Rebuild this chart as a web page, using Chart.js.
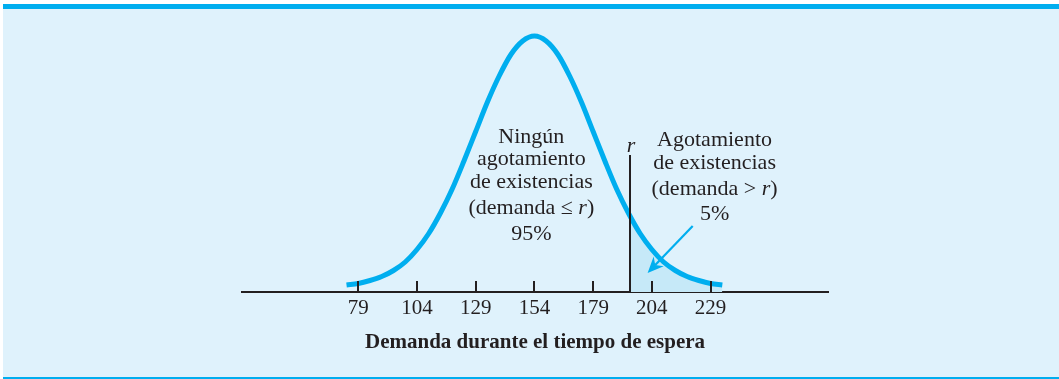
<!DOCTYPE html>
<html>
<head>
<meta charset="utf-8">
<script src="https://cdn.jsdelivr.net/npm/chart.js@4"></script>
<style>
  html, body { margin: 0; padding: 0; background: #ffffff; }
  #wrap { position: relative; width: 1059px; height: 379px; overflow: hidden; }
  #panel { position: absolute; left: 3px; top: 9px; width: 1056px; height: 368px; background: #dff2fc; }
  #topband { position: absolute; left: 3px; top: 4px; width: 1056px; height: 5px; background: #00aeef; }
  #bottomline { position: absolute; left: 3px; top: 377px; width: 1056px; height: 2px; background: #00aeef; }
  #chart { position: absolute; left: 0; top: 0; }
</style>
</head>
<body>
<div id="wrap">
  <div id="panel"></div>
  <div id="topband"></div>
  <div id="bottomline"></div>
  <canvas id="chart" width="1059" height="379"></canvas>
</div>
<script>
// ---- data ----
const curveX = [74, 79, 84, 89, 94, 99, 104, 109, 114, 119, 124, 129, 134, 139, 144, 149, 154,
                159, 164, 169, 174, 179, 184, 189, 194, 199, 204, 209, 214, 219, 224, 229, 234];
const curveH = [7, 8.5, 11.5, 15.5, 21.5, 30, 42.5, 58.5, 79, 103, 131, 160.5, 190, 216, 237.5, 251, 256,
                251, 237.5, 216, 190, 160.5, 131, 103, 79, 58.5, 42.5, 30, 21.5, 15.5, 11.5, 8.5, 7];
const tickValues = [79, 104, 129, 154, 179, 204, 229];
const tickLabels = ["79", "104", "129", "154", "179", "204", "229"];
const rValue = 194.5;
const axisTitle = "Demanda durante el tiempo de espera";
const leftLabel = ["Ningún", "agotamiento", "de existencias", "(demanda ≤ r)", "95%"];
const rightLabel = ["Agotamiento", "de existencias", "(demanda > r)", "5%"];
const rMarkLabel = "r";

// ---- styling / layout ----
const BLUE = "#00aeef";
const SHADE = "#c6e9f8";
const INK = "#231f20";
const SERIF = "'Liberation Serif', 'Times New Roman', serif";

const curvePts = curveX.map((x, i) => ({ x: x, y: curveH[i] }));

function drawMixedLine(ctx, text, cx, baseY, size) {
  const parts = text.split(/(\br\b)/).filter(s => s.length);
  const fontN = size + "px " + SERIF;
  const fontI = "italic " + size + "px " + SERIF;
  let total = 0;
  const widths = parts.map(p => {
    ctx.font = (p === "r") ? fontI : fontN;
    const w = ctx.measureText(p).width;
    total += w;
    return w;
  });
  let x = cx - total / 2;
  ctx.textAlign = "left";
  ctx.textBaseline = "alphabetic";
  parts.forEach((p, i) => {
    ctx.font = (p === "r") ? fontI : fontN;
    ctx.fillText(p, x, baseY);
    x += widths[i];
  });
}

// fill colour only to the right of r (hard-stop horizontal gradient)
function shadeFill(c) {
  const chart = c.chart;
  const ca = chart.chartArea;
  if (!ca) return SHADE;
  const px = chart.scales.x.getPixelForValue(rValue);
  const g = chart.ctx.createLinearGradient(ca.left, 0, ca.right, 0);
  const f = Math.min(1, Math.max(0, (px - ca.left) / (ca.right - ca.left)));
  g.addColorStop(0, "rgba(198,233,248,0)");
  g.addColorStop(f, "rgba(198,233,248,0)");
  g.addColorStop(f, SHADE);
  g.addColorStop(1, SHADE);
  return g;
}

const overlay = {
  id: "overlay",
  afterDatasetsDraw(chart) {
    const ctx = chart.ctx;
    const xs = chart.scales.x, ys = chart.scales.y;
    const X = v => xs.getPixelForValue(v);
    const Y = v => ys.getPixelForValue(v);
    ctx.save();
    // tick marks (pointing up into the plot)
    ctx.strokeStyle = INK;
    ctx.lineWidth = 2;
    tickValues.forEach(v => {
      const px = Math.round(X(v));
      ctx.beginPath();
      ctx.moveTo(px, Y(0));
      ctx.lineTo(px, Y(11));
      ctx.stroke();
    });
    // r line
    const rx = Math.round(X(rValue));
    ctx.beginPath();
    ctx.moveTo(rx, Y(0));
    ctx.lineTo(rx, Y(137));
    ctx.stroke();
    // r mark
    ctx.fillStyle = INK;
    ctx.font = "italic 22px " + SERIF;
    ctx.textAlign = "center";
    ctx.textBaseline = "alphabetic";
    ctx.fillText(rMarkLabel, rx + 1, Y(140.5));
    // arrow
    const x0 = X(221.4), y0 = Y(66), x1 = X(202.2), y1 = Y(19);
    const ang = Math.atan2(y1 - y0, x1 - x0);
    const L = 16, W = 7, notch = 11;
    const bx = x1 - L * Math.cos(ang), by = y1 - L * Math.sin(ang);
    const nx = x1 - notch * Math.cos(ang), ny = y1 - notch * Math.sin(ang);
    ctx.strokeStyle = BLUE;
    ctx.fillStyle = BLUE;
    ctx.lineWidth = 2.2;
    ctx.beginPath();
    ctx.moveTo(x0, y0);
    ctx.lineTo(nx, ny);
    ctx.stroke();
    ctx.beginPath();
    ctx.moveTo(x1, y1);
    ctx.lineTo(bx - W * Math.sin(ang), by + W * Math.cos(ang));
    ctx.lineTo(nx, ny);
    ctx.lineTo(bx + W * Math.sin(ang), by - W * Math.cos(ang));
    ctx.closePath();
    ctx.fill();
    // annotation texts
    ctx.fillStyle = INK;
    const leftBase = [149, 127, 104.5, 78, 52];
    leftLabel.forEach((t, i) => drawMixedLine(ctx, t, X(152.7), Y(leftBase[i]), 22));
    const rightBase = [146, 123, 97, 72];
    rightLabel.forEach((t, i) => drawMixedLine(ctx, t, X(230.7), Y(rightBase[i]), 22));
    ctx.restore();
  }
};

new Chart(document.getElementById("chart"), {
  type: "line",
  data: {
    datasets: [
      {
        label: "Demanda",
        data: curvePts,
        borderColor: BLUE,
        borderWidth: 5,
        pointRadius: 0,
        fill: false,
        cubicInterpolationMode: "monotone",
        borderCapStyle: "butt",
        order: 0
      },
      {
        label: "Agotamiento",
        data: curvePts,
        borderWidth: 0,
        borderColor: "rgba(0,0,0,0)",
        backgroundColor: shadeFill,
        pointRadius: 0,
        fill: "origin",
        cubicInterpolationMode: "monotone",
        order: 1
      }
    ]
  },
  options: {
    responsive: false,
    animation: false,
    devicePixelRatio: 1,
    layout: { padding: { left: 242, right: 231, top: 22, bottom: 0 } },
    plugins: { legend: { display: false }, tooltip: { enabled: false }, title: { display: false } },
    scales: {
      x: {
        type: "linear",
        min: 29.5,
        max: 279,
        afterBuildTicks: s => { s.ticks = tickValues.map(v => ({ value: v })); },
        afterFit: s => { s.height = 87; },
        grid: { display: true, drawOnChartArea: false, drawTicks: false },
        border: { display: true, color: INK, width: 2 },
        ticks: {
          autoSkip: false,
          maxRotation: 0,
          padding: 4,
          color: INK,
          font: { family: SERIF, size: 21 },
          callback: (v) => { const i = tickValues.indexOf(v); return i >= 0 ? tickLabels[i] : ""; }
        },
        title: {
          display: true,
          text: axisTitle,
          color: INK,
          font: { family: SERIF, size: 21, weight: "bold" },
          padding: { top: 0, bottom: 24 }
        }
      },
      y: { display: false, min: 0, max: 270 }
    }
  },
  plugins: [overlay]
});
</script>
</body>
</html>
